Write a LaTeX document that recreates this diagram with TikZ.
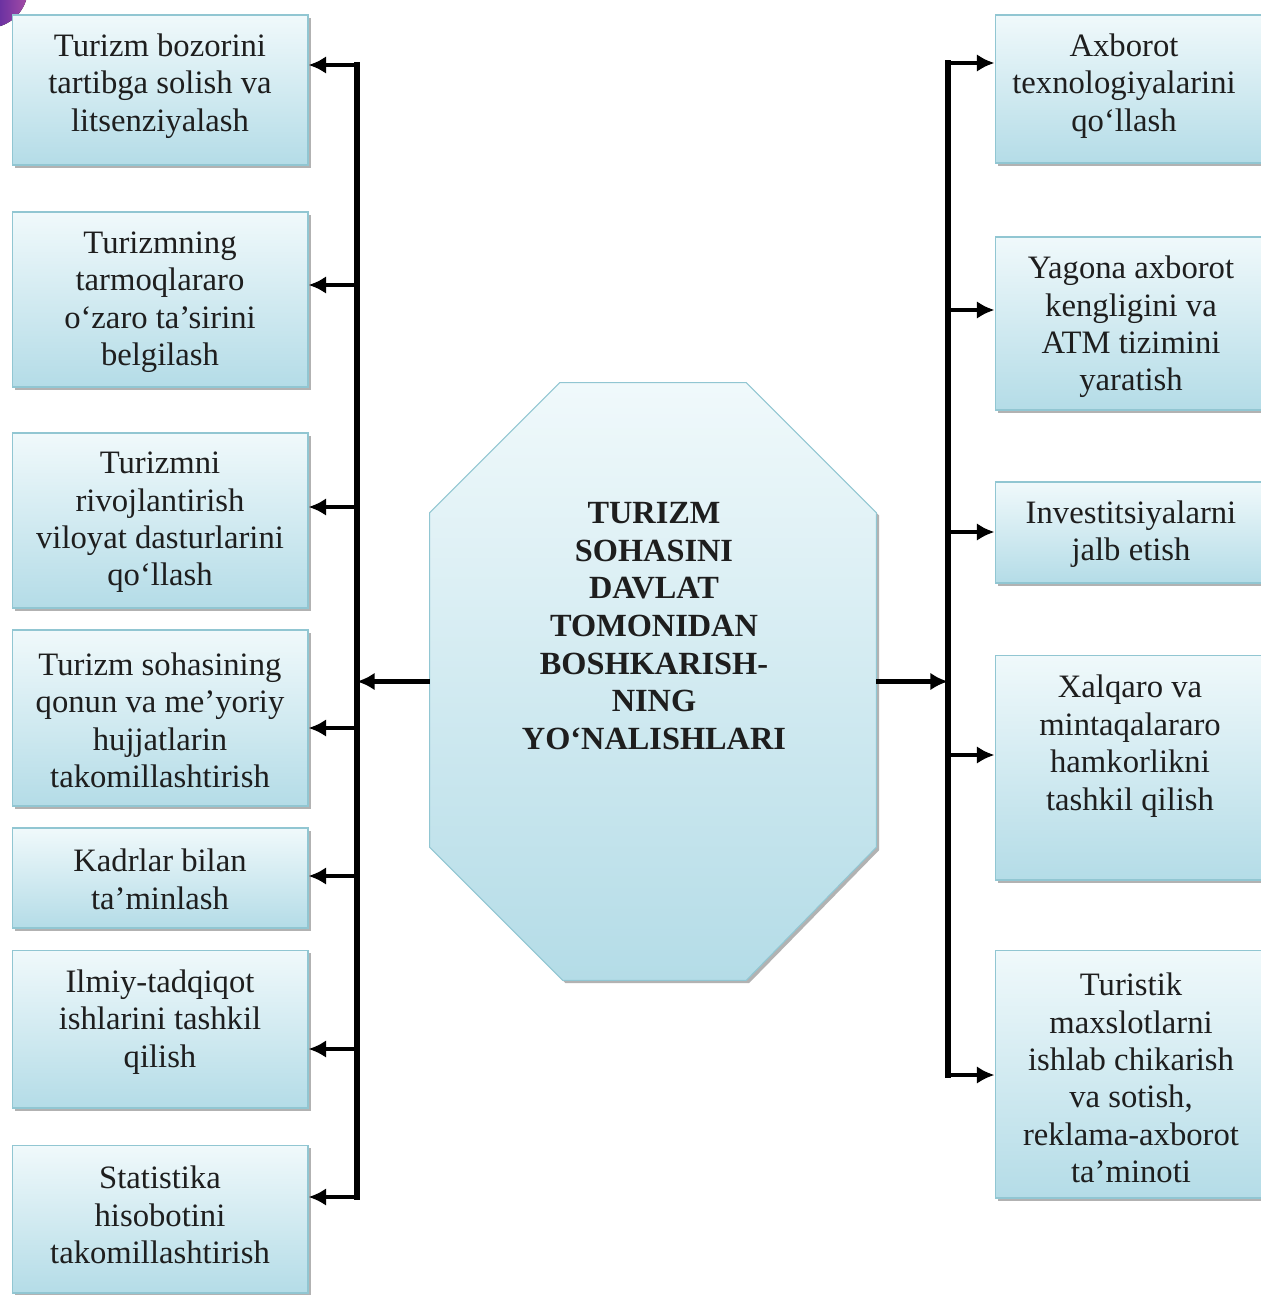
\documentclass[tikz,border=0pt]{standalone}
\usepackage{fontspec}
\setmainfont{Liberation Serif}
\usepackage{tikz}
\usetikzlibrary{arrows.meta,shadows,calc}
\definecolor{boxtop}{RGB}{240,249,251}
\definecolor{boxbot}{RGB}{180,220,231}
\definecolor{boxedge}{RGB}{145,198,210}
\definecolor{boxtext}{RGB}{30,30,30}

\begin{document}
\begin{tikzpicture}[x=0.02cm, y=-0.02cm,
                    box/.style={rectangle, draw=boxedge, line width=0.6pt,
                                top color=boxtop, bottom color=boxbot,
                                drop shadow={shadow xshift=1.6pt, shadow yshift=-1.6pt, fill=black!60}},
                    lbox/.style={box, minimum width=5.92cm},
                    rbox/.style={box, minimum width=5.4cm},
                    txt/.style={align=center, text=boxtext, inner sep=0pt,
                                font=\fontsize{18.6}{21.3}\selectfont},
                    octo/.style={draw=boxedge, line width=0.6pt,
                                 top color=boxtop, bottom color=boxbot,
                                 drop shadow={shadow xshift=1.6pt, shadow yshift=-1.6pt, fill=black!60}},
                    bus/.style={line width=3.4pt, line cap=rect},
                    arr/.style={line width=2.6pt, -{Latex[length=10pt,width=10pt]}}]
                    \useasboundingbox (0,0) rectangle (1261,1295);
                    \fill[left color=blue!60!black, right color=violet!70] (-12,-12) circle (40);

                    % left column
                    \node[lbox, minimum height=3cm]    (l1) at (160,90)    {};
                    \node[txt] (t1) at (160,86)   {Turizm bozorini\\tartibga solish va\\litsenziyalash};
                    \node[lbox, minimum height=3.5cm]  (l2) at (160,299.5) {};
                    \node[txt] (t2) at (160,302)  {Turizmning\\tarmoqlararo\\o‘zaro ta’sirini\\belgilash};
                    \node[lbox, minimum height=3.5cm]  (l3) at (160,520.5) {};
                    \node[txt] (t3) at (160,522.5){Turizmni\\rivojlantirish\\viloyat dasturlarini\\qo‘llash};
                    \node[lbox, minimum height=3.52cm] (l4) at (160,718)   {};
                    \node[txt] (t4) at (160,720.5){Turizm sohasining\\qonun va me’yoriy\\hujjatlarin\\takomillashtirish};
                    \node[lbox, minimum height=2cm]    (l5) at (160,878)   {};
                    \node[txt] (t5) at (160,879.5){Kadrlar bilan\\ta’minlash};
                    \node[lbox, minimum height=3.16cm] (l6) at (160,1029)  {};
                    \node[txt] (t6) at (160,1022) {Ilmiy-tadqiqot\\ishlarini tashkil\\qilish};
                    \node[lbox, minimum height=2.96cm] (l7) at (160,1219)  {};
                    \node[txt] (t7) at (160,1215) {Statistika\\hisobotini\\takomillashtirish};

                    % right column
                    \node[rbox, minimum height=2.96cm] (r1) at (1130,89)    {};
                    \node[txt] (s1) at (1124,86)   {Axborot\\texnologiyalarini\\qo‘llash};
                    \node[rbox, minimum height=3.46cm] (r2) at (1130,323.5) {};
                    \node[txt] (s2) at (1131,327)  {Yagona axborot\\kengligini va\\ATM tizimini\\yaratish};
                    \node[rbox, minimum height=2.02cm] (r3) at (1130,532.5) {};
                    \node[txt] (s3) at (1131,534)  {Investitsiyalarni\\jalb etish};
                    \node[rbox, minimum height=4.5cm]  (r4) at (1130,767.5) {};
                    \node[txt] (s4) at (1130,746)  {Xalqaro va\\mintaqalararo\\hamkorlikni\\tashkil qilish};
                    \node[rbox, minimum height=4.96cm] (r5) at (1130,1074)  {};
                    \node[txt] (s5) at (1131,1078) {Turistik\\maxslotlarni\\ishlab chikarish\\va sotish,\\reklama-axborot\\ta’minoti};

                    % centre
                    \node[minimum width=8.92cm, minimum height=11.94cm, inner sep=0pt] (hub) at (653,681.5) {};
                    \draw[octo] ($(hub.north west)+(130,0)$) -- ($(hub.north east)+(-130,0)$)
                        -- ($(hub.north east)+(0,130)$) -- ($(hub.south east)+(0,-133)$)
                        -- ($(hub.south east)+(-130,0)$) -- ($(hub.south west)+(133,0)$)
                        -- ($(hub.south west)+(0,-133)$) -- ($(hub.north west)+(0,130)$) -- cycle;
                    \node[txt, font=\fontsize{18.4}{21.4}\selectfont\bfseries] (hubt) at (654,626)
                        {TURIZM\\SOHASINI\\DAVLAT\\TOMONIDAN\\BOSHKARISH-\\NING\\YO‘NALISHLARI};

                    % buses
                    \coordinate (lb1) at (357,65);   \coordinate (lb2) at (357,285);
                    \coordinate (lb3) at (357,507);  \coordinate (lb4) at (357,728);
                    \coordinate (lb5) at (357,876);  \coordinate (lb6) at (357,1049);
                    \coordinate (lb7) at (357,1197);
                    \coordinate (rb1) at (948,63);   \coordinate (rb2) at (948,310);
                    \coordinate (rb3) at (948,532);  \coordinate (rb4) at (948,755);
                    \coordinate (rb5) at (948,1075);
                    \draw[bus] (lb1) -- (lb7);
                    \draw[bus] (rb1) -- (rb5);

                    \draw[arr] (hub.west) -- (hub.west -| lb1);
                    \draw[arr] (hub.east) -- (hub.east -| rb1);
                    \draw[arr] (lb1) -- (lb1 -| l1.east);
                    \draw[arr] (lb2) -- (lb2 -| l2.east);
                    \draw[arr] (lb3) -- (lb3 -| l3.east);
                    \draw[arr] (lb4) -- (lb4 -| l4.east);
                    \draw[arr] (lb5) -- (lb5 -| l5.east);
                    \draw[arr] (lb6) -- (lb6 -| l6.east);
                    \draw[arr] (lb7) -- (lb7 -| l7.east);
                    \draw[arr] (rb1) -- (rb1 -| r1.west);
                    \draw[arr] (rb2) -- (rb2 -| r2.west);
                    \draw[arr] (rb3) -- (rb3 -| r3.west);
                    \draw[arr] (rb4) -- (rb4 -| r4.west);
                    \draw[arr] (rb5) -- (rb5 -| r5.west);
                \end{tikzpicture}
\end{document}
